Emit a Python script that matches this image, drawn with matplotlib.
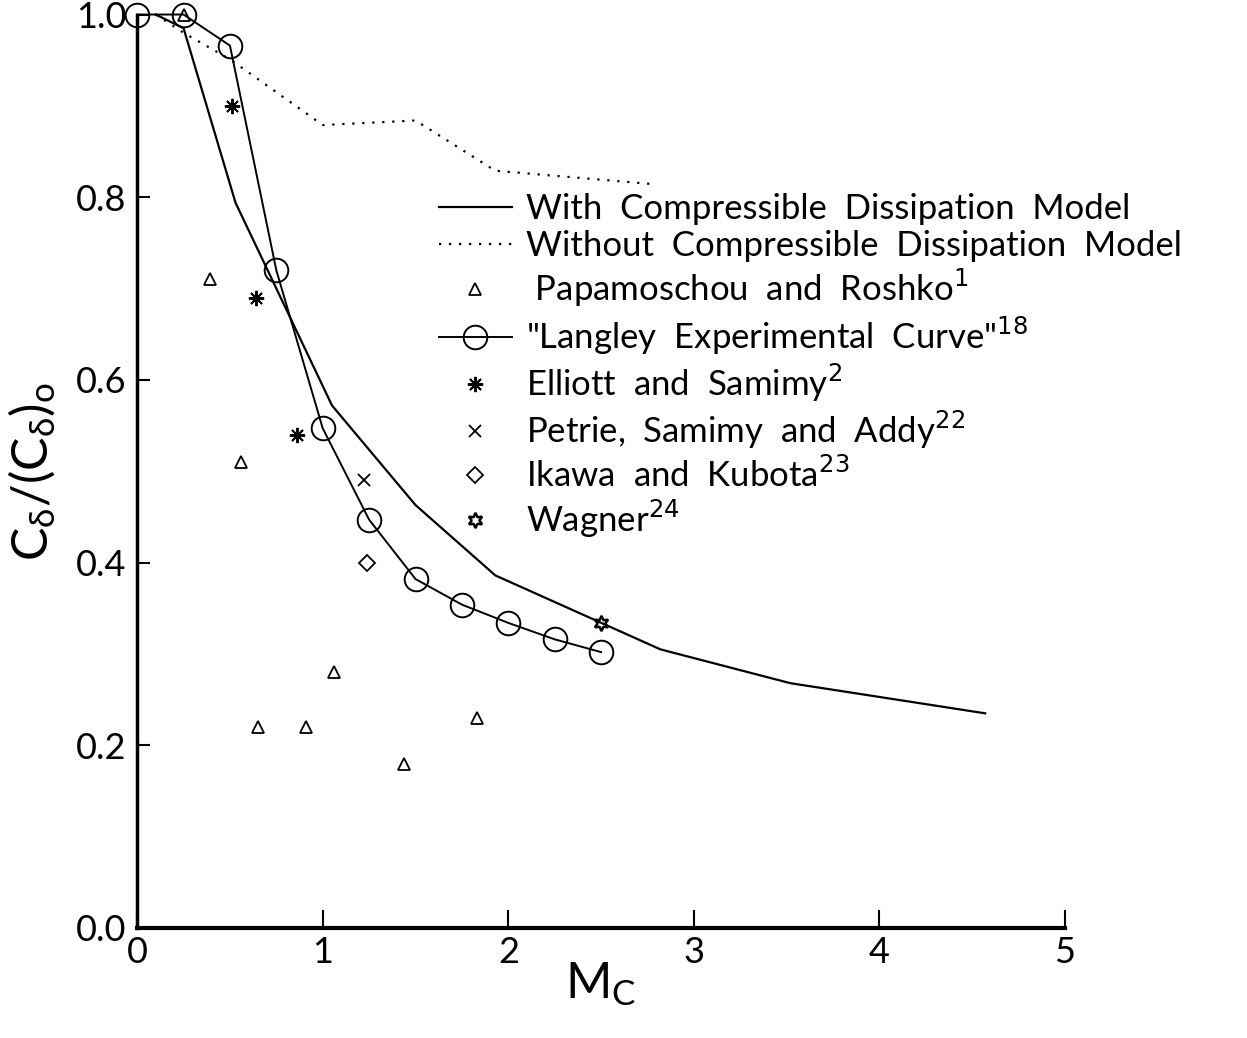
import matplotlib
matplotlib.use("Agg")
import matplotlib.pyplot as plt
from matplotlib.lines import Line2D

plt.rcParams['font.family'] = ['Lato', 'DejaVu Sans']
plt.rcParams['mathtext.fontset'] = 'dejavusans'

# model curves
mc_with = [0.1, 0.25, 0.53, 1.05, 1.5, 1.93, 2.82, 3.52, 4.57]
cd_with = [1.0, 0.985, 0.794, 0.572, 0.463, 0.386, 0.305, 0.268, 0.235]
mc_without = [0.1, 0.25, 0.5, 1.0, 1.5, 1.93, 2.8]
cd_without = [1.0, 0.98, 0.951, 0.879, 0.884, 0.829, 0.814]

# langley experimental curve
mc_langley = [0.0, 0.25, 0.5, 0.75, 1.0, 1.25, 1.5, 1.75, 2.0, 2.25, 2.5]
cd_langley = [1.0, 1.0, 0.966, 0.72, 0.547, 0.447, 0.382, 0.354, 0.334, 0.316, 0.302]

# experiments
mc_papa = [0.25, 0.39, 0.56, 0.65, 0.91, 1.06, 1.44, 1.83]
cd_papa = [1.0, 0.71, 0.51, 0.22, 0.22, 0.28, 0.18, 0.23]
mc_elliott = [0.51, 0.64, 0.86]
cd_elliott = [0.90, 0.69, 0.54]
mc_petrie = [1.22]
cd_petrie = [0.49]
mc_ikawa = [1.24]
cd_ikawa = [0.40]
mc_wagner = [2.5]
cd_wagner = [0.334]

xticks = [0, 1, 2, 3, 4, 5]
yticks = [0.0, 0.2, 0.4, 0.6, 0.8, 1.0]

fig = plt.figure(figsize=(12.47, 10.38), dpi=100)
ax = fig.add_axes([0.110, 0.106, 0.744, 0.880])

kw = dict(color='k', clip_on=False)
ax.plot(mc_with, cd_with, lw=1.6, **kw)
ax.plot(mc_without, cd_without, lw=1.6, ls=(0, (1, 3.5)), **kw)
ax.plot(mc_langley, cd_langley, lw=1.4, marker='o', ms=17, mfc='none', mew=1.4, **kw)
ax.plot(mc_papa, cd_papa, ls='none', marker='^', ms=8, mfc='none', mew=1.3, **kw)
ax.plot(mc_elliott, cd_elliott, ls='none', marker=(8, 2, 0), ms=11, mew=1.4, **kw)
ax.plot(mc_petrie, cd_petrie, ls='none', marker='x', ms=8, mew=1.3, **kw)
ax.plot(mc_ikawa, cd_ikawa, ls='none', marker='D', ms=8, mfc='none', mew=1.3, **kw)
ax.plot(mc_wagner, cd_wagner, ls='none', marker=(6, 1, 0), ms=11, mfc='none', mew=1.8, **kw)

ax.set_xlim(0, 5)
ax.set_ylim(0, 1.0)
ax.set_xticks(xticks)
ax.set_yticks(yticks)
ax.set_xticklabels([str(t) for t in xticks])
ax.set_yticklabels(['%.1f' % t for t in yticks])
for s in ['top', 'right']:
    ax.spines[s].set_visible(False)
ax.spines['left'].set_linewidth(2.5)
ax.spines['bottom'].set_linewidth(3)
ax.tick_params(axis='y', direction='in', length=9, width=1.5, labelsize=26, pad=8)
ax.tick_params(axis='x', direction='in', length=13, width=1.5, labelsize=26, pad=6)

ax.set_xlabel(r'$\mathregular{M_C}$', fontsize=36)
ax.xaxis.set_label_coords(0.5, -0.035)
ax.set_ylabel(r'$\mathregular{C_\delta/(C_\delta)_o}$', fontsize=36)
ax.yaxis.set_label_coords(-0.085, 0.5)

handles = [
    Line2D([], [], color='k', lw=1.6),
    Line2D([], [], color='k', lw=1.6, ls=(0, (1, 3.5))),
    Line2D([], [], color='k', ls='none', marker='^', ms=8, mfc='none', mew=1.3),
    Line2D([], [], color='k', lw=1.4, marker='o', ms=17, mfc='none', mew=1.4),
    Line2D([], [], color='k', ls='none', marker=(8, 2, 0), ms=11, mew=1.4),
    Line2D([], [], color='k', ls='none', marker='x', ms=8, mew=1.3),
    Line2D([], [], color='k', ls='none', marker='D', ms=8, mfc='none', mew=1.3),
    Line2D([], [], color='k', ls='none', marker=(6, 1, 0), ms=11, mfc='none', mew=1.8),
]
labels = [
    'With  Compressible  Dissipation  Model',
    'Without  Compressible  Dissipation  Model',
    ' Papamoschou  and  Roshko$^1$',
    '"Langley  Experimental  Curve"$^{18}$',
    'Elliott  and  Samimy$^2$',
    'Petrie,  Samimy  and  Addy$^{22}$',
    'Ikawa  and  Kubota$^{23}$',
    'Wagner$^{24}$',
]
ax.legend(handles, labels, loc='upper left', bbox_to_anchor=(0.325, 0.805),
          frameon=False, fontsize=25, handlelength=2.1,
          handletextpad=0.4, labelspacing=0.15, borderpad=0, borderaxespad=0)

fig.savefig('out.png', dpi=100)
